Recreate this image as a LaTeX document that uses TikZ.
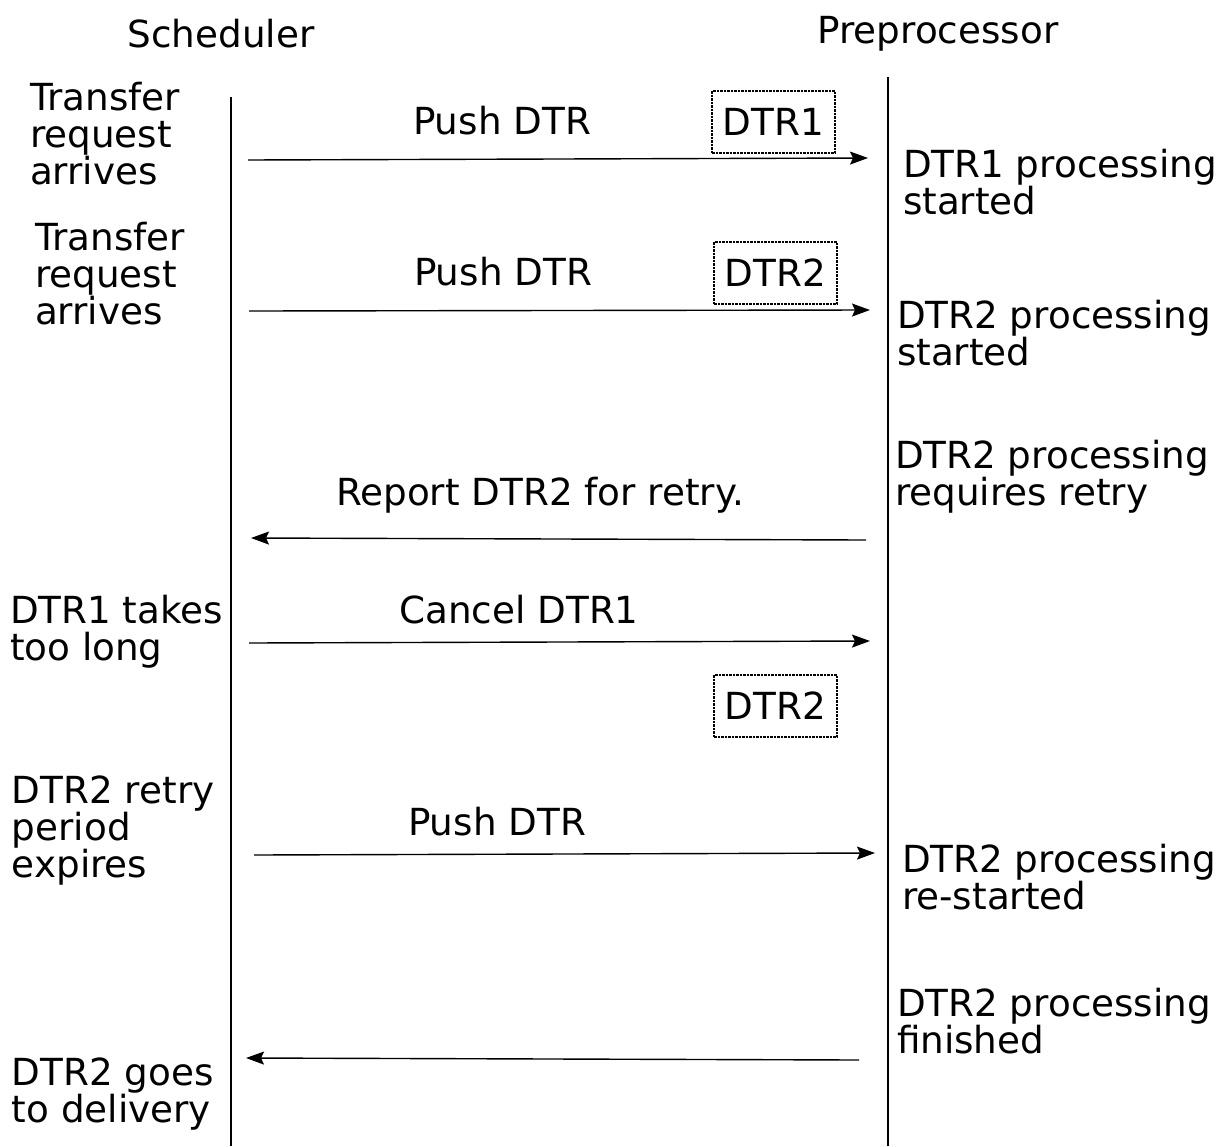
\documentclass[tikz,border=0pt]{standalone}
\usepackage{fontspec}
\setmainfont{DejaVu Sans}
\usetikzlibrary{arrows.meta}
\newcommand\mlines[1]{\vtop{\lineskiplimit=-100pt\baselineskip=37pt\halign{##\hfil\cr#1\crcr}}}
\begin{document}
\begin{tikzpicture}[x=1pt,y=-1pt,
  every node/.style={inner sep=0pt, outer sep=0pt, font=\fontsize{37.3}{37}\selectfont},
  lbl/.style={anchor=base west},
  msg/.style={anchor=base},
  dtrbox/.style={draw, line width=1.1pt, dash pattern=on 2.5pt off 1pt, minimum width=123pt, minimum height=62pt, anchor=center, inner sep=0pt},
  lifeline/.style={line width=1.6pt},
  call/.style={line width=1.4pt, -{Stealth[length=18pt,width=13pt,inset=3pt]}}]
\useasboundingbox (0,0) rectangle (1218,1146);

% lifelines
\coordinate (stop) at (231,97);
\coordinate (sbot) at (231,1146);
\coordinate (ptop) at (888,77);
\coordinate (pbot) at (888,1146);
\draw[lifeline] (stop) -- (sbot);
\draw[lifeline] (ptop) -- (pbot);

% headings
\node[msg] (hs) at (221,47) {Scheduler};
\node[msg] (hp) at (938,43) {Preprocessor};

% message 1
\node[lbl] (t1) at (30,110) {\mlines{Transfer\cr request\cr arrives}};
\node[msg] (m1) at (502,134) {Push DTR};
\node[dtrbox] (b1) at (773.5,122) {DTR1};
\coordinate (a1s) at (248,160);
\coordinate (a1e) at (868,158);
\draw[call] (a1s) -- (a1e);
\node[lbl] (r1) at (903,177) {\mlines{DTR1 processing\cr started}};

% message 2
\node[lbl] (t2) at (35,250) {\mlines{Transfer\cr request\cr arrives}};
\node[msg] (m2) at (503,285) {Push DTR};
\node[dtrbox] (b2) at (775.5,273) {DTR2};
\coordinate (a2s) at (249,311);
\coordinate (a2e) at (870,310);
\draw[call] (a2s) -- (a2e);
\node[lbl] (r2) at (897,328) {\mlines{DTR2 processing\cr started}};

% message 3
\node[lbl] (r3) at (895,468) {\mlines{DTR2 processing\cr requires retry}};
\node[msg] (m3) at (540,505) {Report DTR2 for retry.};
\coordinate (a3s) at (866,540);
\coordinate (a3e) at (251,538);
\draw[call] (a3s) -- (a3e);

% message 4
\node[lbl] (t4) at (10,623) {\mlines{DTR1 takes\cr too long}};
\node[msg] (m4) at (519,623) {Cancel DTR1};
\coordinate (a4s) at (249,643);
\coordinate (a4e) at (870,641);
\draw[call] (a4s) -- (a4e);
\node[dtrbox] (b3) at (775.5,706) {DTR2};

% message 5
\node[lbl] (t5) at (12,803) {\mlines{DTR2 retry\cr period\cr expires}};
\node[msg] (m5) at (497,835) {Push DTR};
\coordinate (a5s) at (254,855);
\coordinate (a5e) at (875,853);
\draw[call] (a5s) -- (a5e);
\node[lbl] (r5) at (902,872) {\mlines{DTR2 processing\cr re-started}};

% message 6
\node[lbl] (r6) at (897,1016) {\mlines{DTR2 processing\cr finished}};
\coordinate (a6s) at (859,1060);
\coordinate (a6e) at (246,1058);
\draw[call] (a6s) -- (a6e);
\node[lbl] (t6) at (12,1085) {\mlines{DTR2 goes\cr to delivery}};
\end{tikzpicture}
\end{document}
